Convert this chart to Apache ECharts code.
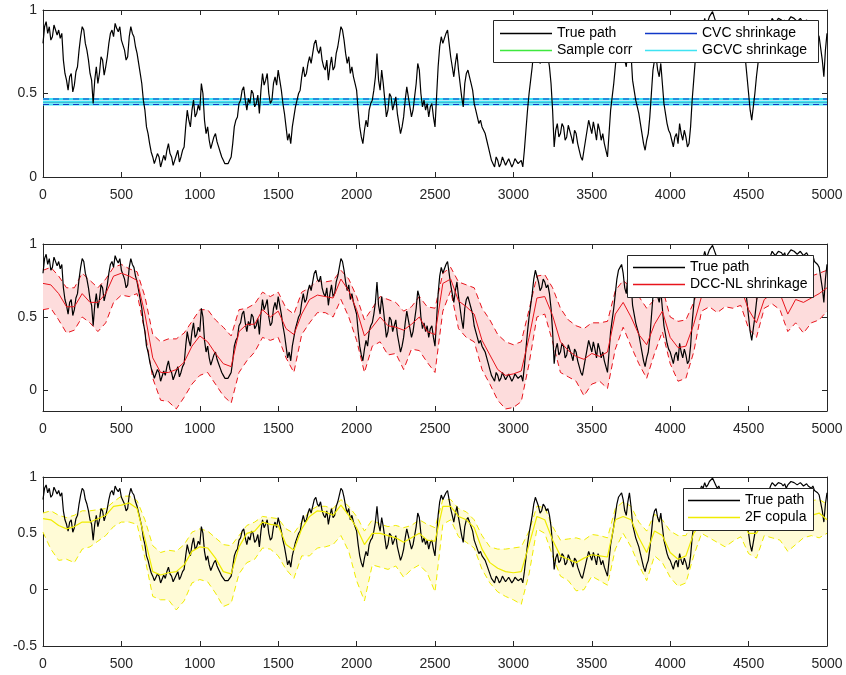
<!DOCTYPE html>
<html>
<head>
<meta charset="utf-8">
<script src="https://cdn.jsdelivr.net/npm/echarts@6/dist/echarts.min.js"></script>
<style>
  html, body { margin: 0; padding: 0; background: #ffffff; }
  #chart { width: 846px; height: 675px; }
</style>
</head>
<body>
<div id="chart"></div>
<script>
// ---- Data -------------------------------------------------------------
// Simulated correlation path, sampled every 10 steps (t = 0 .. 5000)
const truePathStep = 10;
const truePath = [
  0.80,0.90,0.93,0.86,0.90,0.82,0.84,0.91,0.92,0.85,0.88,0.83,0.86,0.70,0.62,0.58,0.52,0.60,0.62,0.51,
  0.55,0.63,0.66,0.76,0.84,0.90,0.88,0.80,0.76,0.70,0.62,0.58,0.44,0.58,0.66,0.56,0.62,0.72,0.70,0.61,
  0.66,0.72,0.80,0.86,0.88,0.84,0.92,0.89,0.87,0.90,0.82,0.79,0.76,0.70,0.72,0.84,0.90,0.86,0.84,0.78,
  0.74,0.68,0.62,0.56,0.46,0.40,0.30,0.26,0.20,0.15,0.12,0.08,0.08,0.14,0.12,0.06,0.07,0.13,0.10,0.16,
  0.20,0.14,0.12,0.07,0.08,0.13,0.16,0.09,0.12,0.16,0.18,0.30,0.40,0.34,0.30,0.40,0.46,0.36,0.38,0.43,
  0.40,0.56,0.50,0.34,0.26,0.30,0.22,0.17,0.18,0.24,0.26,0.21,0.18,0.15,0.12,0.10,0.08,0.07,0.08,0.10,
  0.12,0.20,0.30,0.34,0.36,0.44,0.46,0.52,0.54,0.46,0.40,0.47,0.44,0.52,0.50,0.42,0.44,0.49,0.38,0.52,
  0.62,0.55,0.58,0.62,0.50,0.44,0.46,0.56,0.60,0.55,0.64,0.58,0.52,0.44,0.38,0.30,0.22,0.26,0.20,0.30,
  0.36,0.42,0.46,0.50,0.52,0.60,0.66,0.60,0.62,0.68,0.72,0.68,0.74,0.80,0.82,0.76,0.74,0.78,0.70,0.66,
  0.64,0.70,0.58,0.66,0.72,0.64,0.66,0.74,0.78,0.84,0.90,0.88,0.82,0.74,0.68,0.72,0.62,0.66,0.60,0.56,
  0.52,0.40,0.30,0.24,0.20,0.28,0.34,0.30,0.40,0.44,0.46,0.52,0.60,0.74,0.58,0.52,0.64,0.56,0.46,0.36,
  0.40,0.50,0.48,0.40,0.44,0.48,0.38,0.32,0.26,0.30,0.36,0.46,0.54,0.48,0.42,0.36,0.40,0.48,0.56,0.68,
  0.64,0.50,0.42,0.46,0.40,0.44,0.36,0.42,0.44,0.36,0.30,0.48,0.66,0.78,0.84,0.80,0.80,0.86,0.88,0.80,
  0.72,0.66,0.60,0.68,0.74,0.64,0.56,0.48,0.42,0.56,0.62,0.64,0.60,0.56,0.52,0.44,0.40,0.36,0.32,0.34,
  0.30,0.28,0.26,0.22,0.18,0.14,0.10,0.08,0.06,0.12,0.10,0.06,0.08,0.12,0.11,0.07,0.07,0.11,0.10,0.06,
  0.08,0.11,0.12,0.08,0.07,0.10,0.06,0.16,0.28,0.40,0.50,0.58,0.66,0.76,0.82,0.78,0.74,0.68,0.70,0.76,
  0.74,0.70,0.72,0.66,0.56,0.40,0.18,0.28,0.32,0.24,0.26,0.32,0.30,0.22,0.24,0.31,0.30,0.24,0.20,0.28,
  0.26,0.20,0.16,0.12,0.10,0.16,0.22,0.28,0.34,0.30,0.26,0.33,0.28,0.22,0.32,0.28,0.22,0.26,0.20,0.16,
  0.12,0.26,0.40,0.48,0.56,0.66,0.76,0.82,0.84,0.86,0.80,0.70,0.66,0.78,0.86,0.74,0.58,0.52,0.46,0.42,
  0.38,0.32,0.26,0.20,0.16,0.22,0.26,0.36,0.50,0.64,0.70,0.72,0.64,0.60,0.68,0.56,0.44,0.38,0.32,0.28,
  0.26,0.22,0.18,0.24,0.26,0.20,0.32,0.26,0.22,0.28,0.24,0.18,0.20,0.30,0.46,0.58,0.70,0.80,0.90,0.88,
  0.92,0.90,0.95,0.91,0.93,0.96,0.97,0.99,0.96,0.93,0.90,0.92,0.88,0.90,0.86,0.88,0.90,0.86,0.84,0.87,
  0.88,0.84,0.86,0.84,0.82,0.85,0.86,0.78,0.70,0.60,0.50,0.40,0.34,0.42,0.50,0.60,0.68,0.74,0.80,0.84,
  0.86,0.88,0.84,0.88,0.92,0.95,0.94,0.92,0.93,0.95,0.96,0.94,0.92,0.94,0.90,0.93,0.94,0.96,0.97,0.95,
  0.95,0.93,0.92,0.95,0.94,0.92,0.93,0.94,0.92,0.91,0.90,0.92,0.88,0.87,0.86,0.84,0.84,0.70,0.60,0.76,
  0.86
];

// Constant estimators (top panel)
const sampleCorrLevel = 0.450;
const cvcLevel = 0.450;
const gcvcLevel = 0.451;
const gcvcLower = 0.434;
const gcvcUpper = 0.467;

// Band estimates, sampled every 50 steps (t = 0 .. 5000)
const bandStep = 50;
const dccMid = [
  0.73,0.72,0.66,0.57,0.57,0.66,0.60,0.60,0.66,0.78,
  0.80,0.78,0.75,0.52,0.22,0.12,0.12,0.14,0.19,0.30,
  0.37,0.33,0.25,0.18,0.16,0.40,0.45,0.45,0.55,0.50,
  0.54,0.42,0.38,0.52,0.62,0.65,0.64,0.63,0.76,0.68,
  0.55,0.37,0.43,0.50,0.44,0.43,0.41,0.45,0.50,0.40,
  0.38,0.73,0.76,0.61,0.57,0.52,0.34,0.24,0.14,0.10,
  0.11,0.13,0.36,0.63,0.64,0.51,0.33,0.27,0.23,0.21,
  0.25,0.23,0.26,0.52,0.60,0.50,0.38,0.31,0.45,0.54,
  0.36,0.29,0.30,0.45,0.64,0.70,0.72,0.72,0.72,0.70,
  0.55,0.46,0.62,0.66,0.66,0.52,0.62,0.60,0.63,0.66,
  0.70
];
const dccUpper = [
  0.82,0.84,0.78,0.70,0.70,0.80,0.75,0.70,0.76,0.84,
  0.86,0.83,0.81,0.64,0.38,0.33,0.35,0.35,0.39,0.47,
  0.55,0.55,0.48,0.43,0.37,0.55,0.56,0.59,0.67,0.64,
  0.67,0.56,0.52,0.67,0.70,0.75,0.74,0.75,0.82,0.76,
  0.64,0.48,0.56,0.64,0.62,0.60,0.54,0.57,0.64,0.57,
  0.56,0.80,0.84,0.74,0.72,0.70,0.56,0.48,0.38,0.33,
  0.31,0.33,0.55,0.78,0.79,0.70,0.56,0.48,0.44,0.42,
  0.46,0.46,0.47,0.68,0.75,0.70,0.64,0.56,0.62,0.70,
  0.50,0.47,0.48,0.60,0.76,0.82,0.84,0.84,0.84,0.83,
  0.70,0.62,0.76,0.80,0.80,0.68,0.76,0.76,0.78,0.80,
  0.82
];
const dccLower = [
  0.55,0.56,0.48,0.39,0.41,0.50,0.46,0.40,0.46,0.60,
  0.65,0.64,0.66,0.40,0.08,-0.07,-0.08,-0.13,-0.05,0.04,
  0.10,0.12,0.04,-0.04,-0.09,0.12,0.20,0.26,0.36,0.34,
  0.36,0.22,0.12,0.38,0.46,0.53,0.53,0.50,0.62,0.50,
  0.34,0.12,0.30,0.33,0.24,0.25,0.14,0.28,0.27,0.19,
  0.12,0.54,0.68,0.42,0.36,0.33,0.14,0.04,-0.07,-0.13,
  -0.12,-0.08,0.18,0.50,0.52,0.33,0.12,0.09,0.06,-0.04,
  0.04,0.06,0.01,0.28,0.43,0.30,0.18,0.08,0.25,0.40,
  0.18,0.06,0.08,0.26,0.54,0.57,0.53,0.57,0.56,0.58,
  0.42,0.36,0.56,0.59,0.55,0.40,0.46,0.39,0.46,0.48,
  0.54
];
const copulaMid = [
  0.63,0.62,0.57,0.54,0.56,0.60,0.60,0.63,0.66,0.74,
  0.75,0.77,0.72,0.45,0.16,0.13,0.15,0.16,0.22,0.34,
  0.38,0.37,0.28,0.16,0.14,0.38,0.50,0.52,0.60,0.58,
  0.57,0.40,0.35,0.54,0.65,0.70,0.69,0.66,0.75,0.66,
  0.55,0.40,0.50,0.50,0.48,0.46,0.42,0.46,0.50,0.44,
  0.43,0.74,0.74,0.65,0.62,0.55,0.36,0.24,0.19,0.16,
  0.15,0.16,0.40,0.65,0.62,0.44,0.30,0.27,0.24,0.28,
  0.31,0.30,0.29,0.62,0.65,0.62,0.46,0.33,0.52,0.48,
  0.33,0.27,0.30,0.50,0.60,0.64,0.62,0.60,0.62,0.63,
  0.50,0.50,0.62,0.66,0.66,0.60,0.62,0.64,0.66,0.68,
  0.62
];
const copulaUpper = [
  0.68,0.70,0.66,0.64,0.66,0.70,0.70,0.71,0.72,0.78,
  0.83,0.83,0.79,0.62,0.39,0.33,0.35,0.34,0.40,0.51,
  0.54,0.52,0.46,0.40,0.39,0.48,0.57,0.60,0.65,0.64,
  0.63,0.54,0.50,0.60,0.70,0.74,0.74,0.72,0.80,0.74,
  0.65,0.52,0.62,0.58,0.56,0.57,0.55,0.57,0.62,0.58,
  0.55,0.80,0.80,0.72,0.69,0.62,0.48,0.38,0.36,0.36,
  0.37,0.38,0.52,0.74,0.73,0.56,0.44,0.45,0.46,0.44,
  0.49,0.48,0.46,0.72,0.78,0.74,0.60,0.52,0.67,0.62,
  0.52,0.48,0.48,0.62,0.72,0.76,0.76,0.74,0.76,0.76,
  0.66,0.64,0.74,0.78,0.78,0.74,0.76,0.77,0.79,0.80,
  0.76
];
const copulaLower = [
  0.51,0.36,0.26,0.27,0.24,0.36,0.38,0.43,0.48,0.56,
  0.60,0.60,0.58,0.28,-0.06,-0.09,-0.09,-0.18,-0.10,0.06,
  0.09,0.07,-0.03,-0.15,-0.12,0.14,0.24,0.27,0.37,0.36,
  0.30,0.18,0.10,0.30,0.30,0.37,0.38,0.40,0.48,0.34,
  0.08,-0.10,0.22,0.20,0.18,0.21,0.11,0.18,0.22,0.15,
  -0.02,0.58,0.62,0.47,0.42,0.37,0.18,0.06,-0.02,-0.06,
  -0.09,-0.13,0.14,0.54,0.50,0.30,0.12,0.08,-0.01,0.00,
  0.12,0.08,0.04,0.36,0.50,0.38,0.22,0.08,0.30,0.24,
  0.11,0.03,0.06,0.30,0.50,0.46,0.42,0.38,0.43,0.47,
  0.32,0.28,0.48,0.46,0.44,0.34,0.40,0.46,0.48,0.46,
  0.50
];

// Axis tick values
const xTicks = [0, 500, 1000, 1500, 2000, 2500, 3000, 3500, 4000, 4500, 5000];
const yTicksTop = [0, 0.5, 1];
const yTicksMid = [0, 0.5, 1];
const yTicksBottom = [-0.5, 0, 0.5, 1];

// ---- Helpers ----------------------------------------------------------
const tPath = truePath.map((_, i) => i * truePathStep);
const tBand = dccMid.map((_, i) => i * bandStep);
const xSpan = [xTicks[0], xTicks[xTicks.length - 1]];

const ink = '#262626';
const fontFamily = 'Liberation Sans, Arial, Helvetica, sans-serif';

const grids = [
  { left: 43, top: 10, width: 784, height: 167 },
  { left: 43, top: 244, width: 784, height: 167 },
  { left: 43, top: 477, width: 784, height: 169 }
];

function xAxesFor(gi) {
  const base = {
    type: 'value', gridIndex: gi, min: xSpan[0], max: xSpan[1], interval: 500,
    axisLine: { onZero: false, lineStyle: { color: ink, width: 1 } },
    axisTick: { inside: true, length: 5, lineStyle: { color: ink } },
    splitLine: { show: false }
  };
  return [
    Object.assign({}, base, {
      position: 'bottom',
      axisLabel: {
        fontSize: 14, color: ink, margin: 11, fontFamily: fontFamily,
        formatter: (v) => String(v)
      }
    }),
    Object.assign({}, base, { position: 'top', axisLabel: { show: false } })
  ];
}

function yAxesFor(gi, min, max, ticks) {
  const base = {
    type: 'value', gridIndex: gi, min: min, max: max,
    axisLine: { onZero: false, lineStyle: { color: ink, width: 1 } },
    axisTick: { inside: true, length: 5, lineStyle: { color: ink }, customValues: ticks },
    splitLine: { show: false }
  };
  return [
    Object.assign({}, base, {
      position: 'left',
      axisLabel: {
        fontSize: 14, color: ink, margin: 6, fontFamily: fontFamily,
        customValues: ticks, formatter: (v) => String(v)
      }
    }),
    Object.assign({}, base, { position: 'right', axisLabel: { show: false, customValues: ticks } })
  ];
}

function line(gi, name, xs, ys, color, width, dash, z) {
  const s = {
    type: 'line', xAxisIndex: 2 * gi, yAxisIndex: 2 * gi,
    data: xs.map((x, i) => [x, ys[i]]),
    symbol: 'none', showSymbol: false, silent: true, z: z,
    lineStyle: { color: color, width: width, type: dash ? [6, 4] : 'solid' },
    itemStyle: { color: color },
    emphasis: { disabled: true }
  };
  if (name) s.name = name;
  return s;
}

function flat(gi, name, level, color, width, dash, z) {
  return line(gi, name, xSpan, [level, level], color, width, dash, z);
}

function band(gi, xs, lo, hi, fill) {
  return {
    type: 'custom', xAxisIndex: 2 * gi, yAxisIndex: 2 * gi, silent: true, z: 1,
    data: [[xs[0], lo[0]]],
    renderItem: function (params, api) {
      const pts = [];
      for (let i = 0; i < xs.length; i++) pts.push(api.coord([xs[i], hi[i]]));
      for (let i = xs.length - 1; i >= 0; i--) pts.push(api.coord([xs[i], lo[i]]));
      return { type: 'polygon', shape: { points: pts }, style: { fill: fill, stroke: null } };
    }
  };
}

const red = '#e8141c';
const yellow = '#f0ec00';
const cyan = '#3fe3f2';
const blue = '#1038c8';
const pathInk = '#000000';

const series = [
  // Top panel: constant estimators with band
  band(0, xSpan, [gcvcLower, gcvcLower], [gcvcUpper, gcvcUpper], '#b6eef8'),
  flat(0, 'Sample corr', sampleCorrLevel, '#3ee83e', 1.5, false, 2),
  flat(0, 'CVC shrinkage', cvcLevel, blue, 1.2, false, 2),
  flat(0, null, gcvcUpper, cyan, 2, false, 2),
  flat(0, null, gcvcLower, cyan, 2, false, 2),
  flat(0, null, gcvcUpper, blue, 1.2, true, 2),
  flat(0, null, gcvcLower, blue, 1.2, true, 2),
  flat(0, 'GCVC shrinkage', gcvcLevel, cyan, 1.5, false, 2),
  line(0, 'True path', tPath, truePath, pathInk, 1.2, false, 3),

  // Middle panel: DCC-NL shrinkage
  band(1, tBand, dccLower, dccUpper, '#fddcdc'),
  line(1, null, tBand, dccUpper, red, 1, true, 2),
  line(1, null, tBand, dccLower, red, 1, true, 2),
  line(1, 'True path', tPath, truePath, pathInk, 1.2, false, 3),
  line(1, 'DCC-NL shrinkage', tBand, dccMid, red, 1, false, 3),

  // Bottom panel: 2F copula
  band(2, tBand, copulaLower, copulaUpper, '#fffbd6'),
  line(2, null, tBand, copulaUpper, yellow, 1, true, 2),
  line(2, null, tBand, copulaLower, yellow, 1, true, 2),
  line(2, 'True path', tPath, truePath, pathInk, 1.2, false, 3),
  line(2, '2F copula', tBand, copulaMid, yellow, 1.2, false, 3)
];

function legendAt(left, top, names) {
  return {
    orient: 'vertical', left: left, top: top, padding: 0,
    data: names, icon: 'rect', itemWidth: 52, itemHeight: 1.5, itemGap: 0,
    selectedMode: false, z: 6,
    textStyle: { fontSize: 14, lineHeight: 17, color: '#000000', fontFamily: fontFamily }
  };
}

function legendBox(x, y, w, h) {
  return {
    type: 'rect', z: 5, silent: true,
    shape: { x: x, y: y, width: w, height: h },
    style: { fill: '#ffffff', stroke: ink, lineWidth: 1 }
  };
}

const option = {
  animation: false,
  backgroundColor: '#ffffff',
  grid: grids,
  xAxis: [].concat(xAxesFor(0), xAxesFor(1), xAxesFor(2)),
  yAxis: [].concat(
    yAxesFor(0, 0, 1, yTicksTop),
    yAxesFor(1, -0.144, 1, yTicksMid),
    yAxesFor(2, -0.5, 1, yTicksBottom)
  ),
  legend: [
    legendAt(500, 25, ['True path', 'Sample corr']),
    legendAt(645, 25, ['CVC shrinkage', 'GCVC shrinkage']),
    legendAt(633, 259, ['True path', 'DCC-NL shrinkage']),
    legendAt(688, 492, ['True path', '2F copula'])
  ],
  graphic: [
    legendBox(493.5, 20.5, 325, 42),
    legendBox(627.5, 255.5, 186, 42),
    legendBox(683.5, 488.5, 130, 42)
  ],
  series: series
};

const chart = echarts.init(document.getElementById('chart'), null, { renderer: 'canvas' });
chart.setOption(option);
</script>
</body>
</html>
